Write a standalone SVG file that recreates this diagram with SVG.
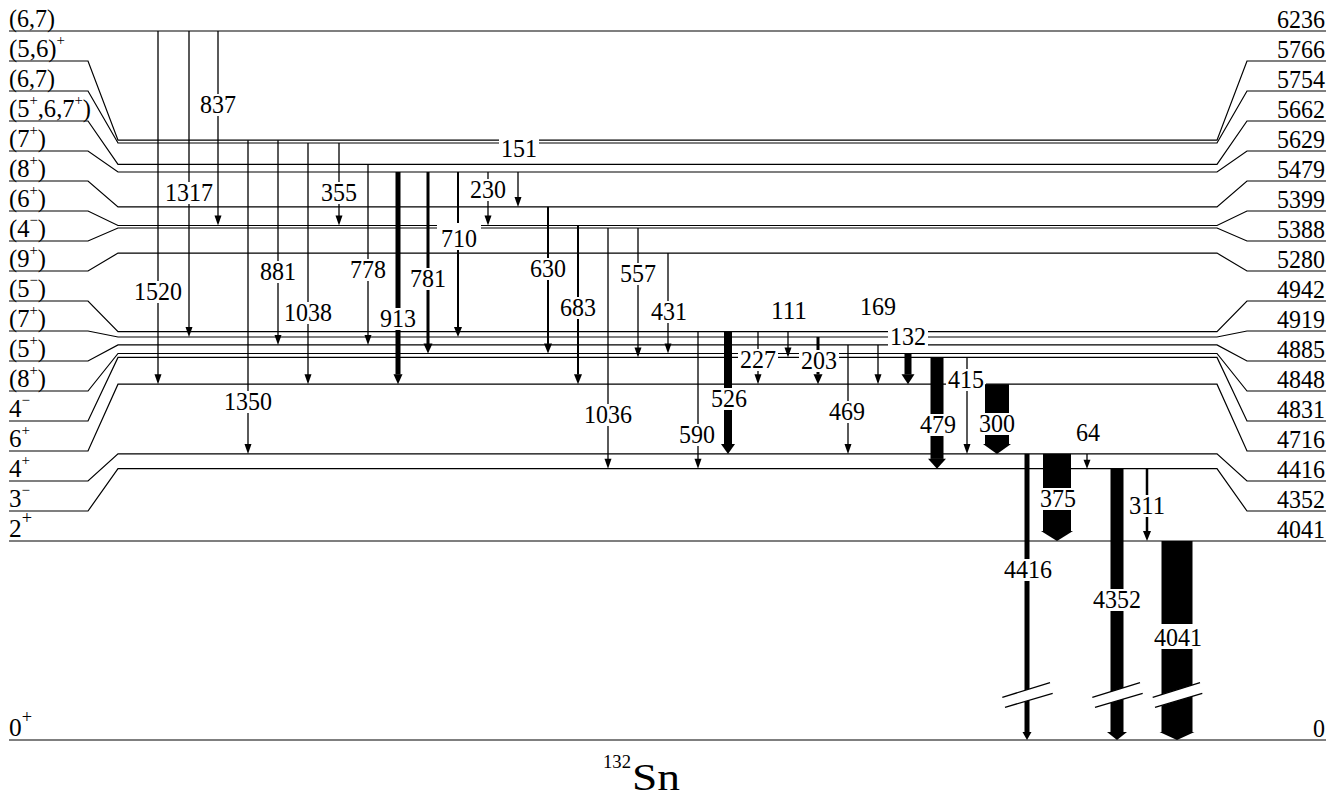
<svg xmlns="http://www.w3.org/2000/svg" width="1344" height="797" viewBox="0 0 1344 797" font-family="Liberation Serif, Tinos, Nimbus Roman, FreeSerif, Noto Serif, DejaVu Serif, serif" font-size="25">
<style>
.lv{fill:none;stroke:#000;stroke-width:1.2}
.tr{stroke:#000;stroke-width:1.3}
.ah{fill:#000}
.bx{fill:#fff}
.c{text-anchor:middle}
.e{text-anchor:end}
.s{font-size:15px}
.sb{font-size:18px}
.bk{stroke:#000;stroke-width:1.3;fill:none}
</style>
<rect width="1344" height="797" fill="#fff"/>
<g id="levels">
<g id="level-6236"><polyline class="lv" points="9,31 1326,31"/><text x="9" y="27" textLength="46" lengthAdjust="spacingAndGlyphs">(6,7)</text><text class="e" x="1325" y="28" textLength="48" lengthAdjust="spacingAndGlyphs">6236</text></g>
<g id="level-5766"><polyline class="lv" points="9,61 88,61 118,140.2 1217,140.2 1247,61 1326,61"/><text x="9" y="57" textLength="56" lengthAdjust="spacingAndGlyphs">(5,6)<tspan class="s" dy="-12">+</tspan></text><text class="e" x="1325" y="58" textLength="48" lengthAdjust="spacingAndGlyphs">5766</text></g>
<g id="level-5754"><polyline class="lv" points="9,91 88,91 118,143 1217,143 1247,91 1326,91"/><text x="9" y="87" textLength="46" lengthAdjust="spacingAndGlyphs">(6,7)</text><text class="e" x="1325" y="88" textLength="48" lengthAdjust="spacingAndGlyphs">5754</text></g>
<g id="level-5662"><polyline class="lv" points="9,121 88,121 118,164.4 1217,164.4 1247,121 1326,121"/><text x="9" y="117" textLength="82" lengthAdjust="spacingAndGlyphs">(5<tspan class="s" dy="-12">+</tspan><tspan dy="12">,6,7</tspan><tspan class="s" dy="-12">+</tspan><tspan dy="12">)</tspan></text><text class="e" x="1325" y="118" textLength="48" lengthAdjust="spacingAndGlyphs">5662</text></g>
<g id="level-5629"><polyline class="lv" points="9,151 88,151 118,172 1217,172 1247,151 1326,151"/><text x="9" y="147" textLength="37" lengthAdjust="spacingAndGlyphs">(7<tspan class="s" dy="-12">+</tspan><tspan dy="12">)</tspan></text><text class="e" x="1325" y="148" textLength="48" lengthAdjust="spacingAndGlyphs">5629</text></g>
<g id="level-5479"><polyline class="lv" points="9,181 88,181 118,206.9 1217,206.9 1247,181 1326,181"/><text x="9" y="177" textLength="37" lengthAdjust="spacingAndGlyphs">(8<tspan class="s" dy="-12">+</tspan><tspan dy="12">)</tspan></text><text class="e" x="1325" y="178" textLength="48" lengthAdjust="spacingAndGlyphs">5479</text></g>
<g id="level-5399"><polyline class="lv" points="9,211 88,211 118,225.5 1217,225.5 1247,211 1326,211"/><text x="9" y="207" textLength="37" lengthAdjust="spacingAndGlyphs">(6<tspan class="s" dy="-12">+</tspan><tspan dy="12">)</tspan></text><text class="e" x="1325" y="208" textLength="48" lengthAdjust="spacingAndGlyphs">5399</text></g>
<g id="level-5388"><polyline class="lv" points="9,241 88,241 118,228 1217,228 1247,241 1326,241"/><text x="9" y="237" textLength="37" lengthAdjust="spacingAndGlyphs">(4<tspan class="s" dy="-12">−</tspan><tspan dy="12">)</tspan></text><text class="e" x="1325" y="238" textLength="48" lengthAdjust="spacingAndGlyphs">5388</text></g>
<g id="level-5280"><polyline class="lv" points="9,271 88,271 118,253.1 1217,253.1 1247,271 1326,271"/><text x="9" y="267" textLength="37" lengthAdjust="spacingAndGlyphs">(9<tspan class="s" dy="-12">+</tspan><tspan dy="12">)</tspan></text><text class="e" x="1325" y="268" textLength="48" lengthAdjust="spacingAndGlyphs">5280</text></g>
<g id="level-4942"><polyline class="lv" points="9,301 88,301 118,331.7 1217,331.7 1247,301 1326,301"/><text x="9" y="297" textLength="37" lengthAdjust="spacingAndGlyphs">(5<tspan class="s" dy="-12">−</tspan><tspan dy="12">)</tspan></text><text class="e" x="1325" y="298" textLength="48" lengthAdjust="spacingAndGlyphs">4942</text></g>
<g id="level-4919"><polyline class="lv" points="9,331 88,331 118,337 1217,337 1247,331 1326,331"/><text x="9" y="327" textLength="37" lengthAdjust="spacingAndGlyphs">(7<tspan class="s" dy="-12">+</tspan><tspan dy="12">)</tspan></text><text class="e" x="1325" y="328" textLength="48" lengthAdjust="spacingAndGlyphs">4919</text></g>
<g id="level-4885"><polyline class="lv" points="9,361 88,361 118,344.9 1217,344.9 1247,361 1326,361"/><text x="9" y="357" textLength="37" lengthAdjust="spacingAndGlyphs">(5<tspan class="s" dy="-12">+</tspan><tspan dy="12">)</tspan></text><text class="e" x="1325" y="358" textLength="48" lengthAdjust="spacingAndGlyphs">4885</text></g>
<g id="level-4848"><polyline class="lv" points="9,391 88,391 118,353.5 1217,353.5 1247,391 1326,391"/><text x="9" y="387" textLength="37" lengthAdjust="spacingAndGlyphs">(8<tspan class="s" dy="-12">+</tspan><tspan dy="12">)</tspan></text><text class="e" x="1325" y="388" textLength="48" lengthAdjust="spacingAndGlyphs">4848</text></g>
<g id="level-4831"><polyline class="lv" points="9,421 88,421 118,357.4 1217,357.4 1247,421 1326,421"/><text x="9" y="417" textLength="21" lengthAdjust="spacingAndGlyphs">4<tspan class="s" dy="-12">−</tspan></text><text class="e" x="1325" y="418" textLength="48" lengthAdjust="spacingAndGlyphs">4831</text></g>
<g id="level-4716"><polyline class="lv" points="9,451 88,451 118,384.2 1217,384.2 1247,451 1326,451"/><text x="9" y="447" textLength="21" lengthAdjust="spacingAndGlyphs">6<tspan class="s" dy="-12">+</tspan></text><text class="e" x="1325" y="448" textLength="48" lengthAdjust="spacingAndGlyphs">4716</text></g>
<g id="level-4416"><polyline class="lv" points="9,481 88,481 118,453.9 1217,453.9 1247,481 1326,481"/><text x="9" y="477" textLength="21" lengthAdjust="spacingAndGlyphs">4<tspan class="s" dy="-12">+</tspan></text><text class="e" x="1325" y="478" textLength="48" lengthAdjust="spacingAndGlyphs">4416</text></g>
<g id="level-4352"><polyline class="lv" points="9,511 88,511 118,468.7 1217,468.7 1247,511 1326,511"/><text x="9" y="507" textLength="21" lengthAdjust="spacingAndGlyphs">3<tspan class="s" dy="-12">−</tspan></text><text class="e" x="1325" y="508" textLength="48" lengthAdjust="spacingAndGlyphs">4352</text></g>
<g id="level-4041"><polyline class="lv" points="9,541 1326,541"/><text x="9" y="537" textLength="23" lengthAdjust="spacingAndGlyphs">2<tspan class="sb" dy="-13">+</tspan></text><text class="e" x="1325" y="538" textLength="48" lengthAdjust="spacingAndGlyphs">4041</text></g>
<g id="level-0"><polyline class="lv" points="9,740 1326,740"/><text x="9" y="736" textLength="23" lengthAdjust="spacingAndGlyphs">0<tspan class="sb" dy="-13">+</tspan></text><text class="e" x="1325" y="737" textLength="12" lengthAdjust="spacingAndGlyphs">0</text></g>
</g>
<g id="connectors">
<g id="g1520"><line class="tr" x1="158" y1="31" x2="158" y2="375"/><polygon class="ah" points="154.5,374.2 161.5,374.2 158,384.2"/><rect class="bx" x="132" y="281" width="52" height="22"/><text class="c" x="158" y="300" textLength="48" lengthAdjust="spacingAndGlyphs">1520</text></g>
<g id="g1317"><line class="tr" x1="189" y1="31" x2="189" y2="328"/><polygon class="ah" points="185.5,327 192.5,327 189,337"/><rect class="bx" x="163" y="182" width="52" height="22"/><text class="c" x="189" y="201" textLength="48" lengthAdjust="spacingAndGlyphs">1317</text></g>
<g id="g837"><line class="tr" x1="218" y1="31" x2="218" y2="216"/><polygon class="ah" points="214.5,215.5 221.5,215.5 218,225.5"/><rect class="bx" x="198" y="94" width="40" height="22"/><text class="c" x="218" y="113" textLength="36" lengthAdjust="spacingAndGlyphs">837</text></g>
<g id="g1350"><line class="tr" x1="248" y1="140.2" x2="248" y2="445"/><polygon class="ah" points="244.5,443.9 251.5,443.9 248,453.9"/><rect class="bx" x="222" y="391" width="52" height="22"/><text class="c" x="248" y="410" textLength="48" lengthAdjust="spacingAndGlyphs">1350</text></g>
<g id="g881"><line class="tr" x1="278" y1="140.2" x2="278" y2="336"/><polygon class="ah" points="274.5,334.9 281.5,334.9 278,344.9"/><rect class="bx" x="258" y="261" width="40" height="22"/><text class="c" x="278" y="280" textLength="36" lengthAdjust="spacingAndGlyphs">881</text></g>
<g id="g1038"><line class="tr" x1="308" y1="143" x2="308" y2="375"/><polygon class="ah" points="304.5,374.2 311.5,374.2 308,384.2"/><rect class="bx" x="282" y="302" width="52" height="22"/><text class="c" x="308" y="321" textLength="48" lengthAdjust="spacingAndGlyphs">1038</text></g>
<g id="g355"><line class="tr" x1="339" y1="143" x2="339" y2="216"/><polygon class="ah" points="335.5,215.5 342.5,215.5 339,225.5"/><rect class="bx" x="319" y="182" width="40" height="22"/><text class="c" x="339" y="201" textLength="36" lengthAdjust="spacingAndGlyphs">355</text></g>
<g id="g778"><line class="tr" x1="368" y1="164.4" x2="368" y2="336"/><polygon class="ah" points="364.5,334.9 371.5,334.9 368,344.9"/><rect class="bx" x="348" y="259" width="40" height="22"/><text class="c" x="368" y="278" textLength="36" lengthAdjust="spacingAndGlyphs">778</text></g>
<g id="g913"><rect class="ah" x="395.5" y="172" width="5" height="202.5"/><polygon class="ah" points="393.5,374.2 402.5,374.2 398,384.2"/><rect class="bx" x="378" y="308" width="40" height="22"/><text class="c" x="398" y="327" textLength="36" lengthAdjust="spacingAndGlyphs">913</text></g>
<g id="g781"><rect class="ah" x="426.5" y="172" width="3" height="172"/><polygon class="ah" points="423.5,343.5 432.5,343.5 428,353.5"/><rect class="bx" x="408" y="268" width="40" height="22"/><text class="c" x="428" y="287" textLength="36" lengthAdjust="spacingAndGlyphs">781</text></g>
<g id="g710"><rect class="ah" x="457" y="172" width="2" height="155.5"/><polygon class="ah" points="454,327 462,327 458,337"/><rect class="bx" x="437" y="223" width="44" height="27"/><text class="c" x="459" y="247" textLength="36" lengthAdjust="spacingAndGlyphs">710</text></g>
<g id="g230"><line class="tr" x1="488" y1="172" x2="488" y2="216"/><polygon class="ah" points="484.5,215.5 491.5,215.5 488,225.5"/><rect class="bx" x="468" y="179" width="40" height="22"/><text class="c" x="488" y="198" textLength="36" lengthAdjust="spacingAndGlyphs">230</text></g>
<g id="g151"><line class="tr" x1="518" y1="172" x2="518" y2="197.5" stroke-width="1.6"/><polygon class="ah" points="514.5,196.9 521.5,196.9 518,206.9"/><rect class="bx" x="499" y="137" width="40" height="23"/><text class="c" x="519" y="157" textLength="36" lengthAdjust="spacingAndGlyphs">151</text></g>
<g id="g630"><rect class="ah" x="547" y="206.9" width="2" height="137"/><polygon class="ah" points="544,343.5 552,343.5 548,353.5"/><rect class="bx" x="528" y="258" width="40" height="22"/><text class="c" x="548" y="277" textLength="36" lengthAdjust="spacingAndGlyphs">630</text></g>
<g id="g683"><rect class="ah" x="577" y="225.5" width="2" height="149"/><polygon class="ah" points="574,374.2 582,374.2 578,384.2"/><rect class="bx" x="558" y="297" width="40" height="22"/><text class="c" x="578" y="316" textLength="36" lengthAdjust="spacingAndGlyphs">683</text></g>
<g id="g1036"><line class="tr" x1="608" y1="228" x2="608" y2="459" stroke-width="1.5"/><polygon class="ah" points="604.5,458.7 611.5,458.7 608,468.7"/><rect class="bx" x="582" y="404" width="52" height="22"/><text class="c" x="608" y="423" textLength="48" lengthAdjust="spacingAndGlyphs">1036</text></g>
<g id="g557"><line class="tr" x1="638" y1="228" x2="638" y2="348" stroke-width="1.5"/><polygon class="ah" points="634.5,347.4 641.5,347.4 638,357.4"/><rect class="bx" x="618" y="263" width="40" height="22"/><text class="c" x="638" y="282" textLength="36" lengthAdjust="spacingAndGlyphs">557</text></g>
<g id="g431"><line class="tr" x1="668" y1="253.1" x2="668" y2="344" stroke-width="1.6"/><polygon class="ah" points="664.5,343.5 671.5,343.5 668,353.5"/><rect class="bx" x="648" y="301" width="40" height="22"/><text class="c" x="669" y="320" textLength="36" lengthAdjust="spacingAndGlyphs">431</text></g>
<g id="g590"><line class="tr" x1="698" y1="331.7" x2="698" y2="459"/><polygon class="ah" points="694.5,458.7 701.5,458.7 698,468.7"/><rect class="bx" x="678" y="424" width="40" height="22"/><text class="c" x="697" y="443" textLength="36" lengthAdjust="spacingAndGlyphs">590</text></g>
<g id="g526"><rect class="ah" x="724" y="331.7" width="8" height="112.5"/><polygon class="ah" points="721,443.9 735,443.9 728,453.9"/><rect class="bx" x="708" y="388" width="42" height="22"/><text class="c" x="729" y="407" textLength="36" lengthAdjust="spacingAndGlyphs">526</text></g>
<g id="g227"><line class="tr" x1="758" y1="331.7" x2="758" y2="375"/><polygon class="ah" points="754.5,374.2 761.5,374.2 758,384.2"/><rect class="bx" x="738" y="349" width="40" height="22"/><text class="c" x="758" y="368" textLength="36" lengthAdjust="spacingAndGlyphs">227</text></g>
<g id="g111"><line class="tr" x1="788" y1="331.7" x2="788" y2="348" stroke-width="1.5"/><polygon class="ah" points="784.5,347.4 791.5,347.4 788,357.4"/><rect class="bx" x="769" y="300" width="40" height="22"/><text class="c" x="789" y="319" textLength="36" lengthAdjust="spacingAndGlyphs">111</text></g>
<g id="g203"><rect class="ah" x="816.5" y="337" width="3" height="37.5"/><polygon class="ah" points="813.5,374.2 822.5,374.2 818,384.2"/><rect class="bx" x="799" y="350" width="40" height="22"/><text class="c" x="819" y="369" textLength="36" lengthAdjust="spacingAndGlyphs">203</text></g>
<g id="g469"><line class="tr" x1="848" y1="344.9" x2="848" y2="445" stroke-width="1.5"/><polygon class="ah" points="844.5,443.9 851.5,443.9 848,453.9"/><rect class="bx" x="828" y="401" width="40" height="22"/><text class="c" x="847" y="420" textLength="36" lengthAdjust="spacingAndGlyphs">469</text></g>
<g id="g169"><line class="tr" x1="878" y1="344.9" x2="878" y2="375"/><polygon class="ah" points="874.5,374.2 881.5,374.2 878,384.2"/><rect class="bx" x="858" y="296" width="40" height="22"/><text class="c" x="878" y="315" textLength="36" lengthAdjust="spacingAndGlyphs">169</text></g>
<g id="g132"><rect class="ah" x="904.5" y="353.5" width="7" height="21"/><polygon class="ah" points="901.5,374.2 914.5,374.2 908,384.2"/><rect class="bx" x="888" y="325" width="40" height="23"/><text class="c" x="908" y="345" textLength="36" lengthAdjust="spacingAndGlyphs">132</text></g>
<g id="g479"><rect class="ah" x="930.5" y="357.4" width="13" height="101.5"/><polygon class="ah" points="928,458.7 946,458.7 937,468.7"/><rect class="bx" x="918" y="414" width="40" height="22"/><text class="c" x="938" y="433" textLength="36" lengthAdjust="spacingAndGlyphs">479</text></g>
<g id="g415"><line class="tr" x1="967" y1="357.4" x2="967" y2="445"/><polygon class="ah" points="963.5,443.9 970.5,443.9 967,453.9"/><rect class="bx" x="946" y="369" width="40" height="22"/><text class="c" x="966" y="388" textLength="36" lengthAdjust="spacingAndGlyphs">415</text></g>
<g id="g300"><rect class="ah" x="985" y="384.2" width="24" height="60"/><polygon class="ah" points="983,443.9 1011,443.9 997,453.9"/><rect class="bx" x="977" y="413" width="40" height="22"/><text class="c" x="997" y="432" textLength="36" lengthAdjust="spacingAndGlyphs">300</text></g>
<g id="g4416"><rect class="ah" x="1024.5" y="453.9" width="5" height="278.5"/><polygon class="ah" points="1022.5,732 1031.5,732 1027,740"/><rect class="bx" x="1002" y="559" width="52" height="22"/><text class="c" x="1028" y="578" textLength="48" lengthAdjust="spacingAndGlyphs">4416</text><polygon fill="#fff" points="1001.5,697.6 1050.5,682.4 1053.5,693 1004.5,707.8"/><line class="bk" x1="1002.3" y1="697.3" x2="1050" y2="682.7"/><line class="bk" x1="1005" y1="707.3" x2="1052.7" y2="693.3"/></g>
<g id="g375"><rect class="ah" x="1043" y="453.9" width="28" height="77.5"/><polygon class="ah" points="1041,531 1073,531 1057,541"/><rect class="bx" x="1038" y="488" width="40" height="22"/><text class="c" x="1058" y="507" textLength="36" lengthAdjust="spacingAndGlyphs">375</text></g>
<g id="g64"><line class="tr" x1="1087" y1="453.9" x2="1087" y2="460"/><polygon class="ah" points="1083.5,459.7 1090.5,459.7 1087,468.7"/><rect class="bx" x="1074" y="422" width="28" height="22"/><text class="c" x="1088" y="441" textLength="24" lengthAdjust="spacingAndGlyphs">64</text></g>
<g id="g4352"><rect class="ah" x="1110.5" y="468.7" width="13" height="263.8"/><polygon class="ah" points="1107,732 1127,732 1117,740"/><rect class="bx" x="1091" y="589" width="52" height="22"/><text class="c" x="1117" y="608" textLength="48" lengthAdjust="spacingAndGlyphs">4352</text><polygon fill="#fff" points="1091.5,697.6 1140.5,682.4 1143.5,693 1094.5,707.8"/><line class="bk" x1="1092.3" y1="697.3" x2="1140" y2="682.7"/><line class="bk" x1="1095" y1="707.3" x2="1142.7" y2="693.3"/></g>
<g id="g311"><rect class="ah" x="1145.75" y="468.7" width="2.5" height="62.8"/><polygon class="ah" points="1143,531 1151,531 1147,541"/><rect class="bx" x="1127" y="495" width="40" height="22"/><text class="c" x="1147" y="514" textLength="36" lengthAdjust="spacingAndGlyphs">311</text></g>
<g id="g4041"><rect class="ah" x="1161.5" y="541" width="31" height="191.5"/><polygon class="ah" points="1159.5,732 1194.5,732 1177,740"/><rect class="bx" x="1152" y="624" width="52" height="25"/><text class="c" x="1178" y="646" textLength="48" lengthAdjust="spacingAndGlyphs">4041</text><polygon fill="#fff" points="1151.5,697.6 1200.5,682.4 1203.5,693 1154.5,707.8"/><line class="bk" x1="1152.7" y1="697.3" x2="1200" y2="682.7"/><line class="bk" x1="1155" y1="707.3" x2="1202.3" y2="693.3"/></g>
</g>
<g id="title"><text x="603" y="768" font-size="19" textLength="28" lengthAdjust="spacingAndGlyphs">132</text><text x="632" y="790" font-size="38" textLength="48" lengthAdjust="spacingAndGlyphs">Sn</text></g>
</svg>
